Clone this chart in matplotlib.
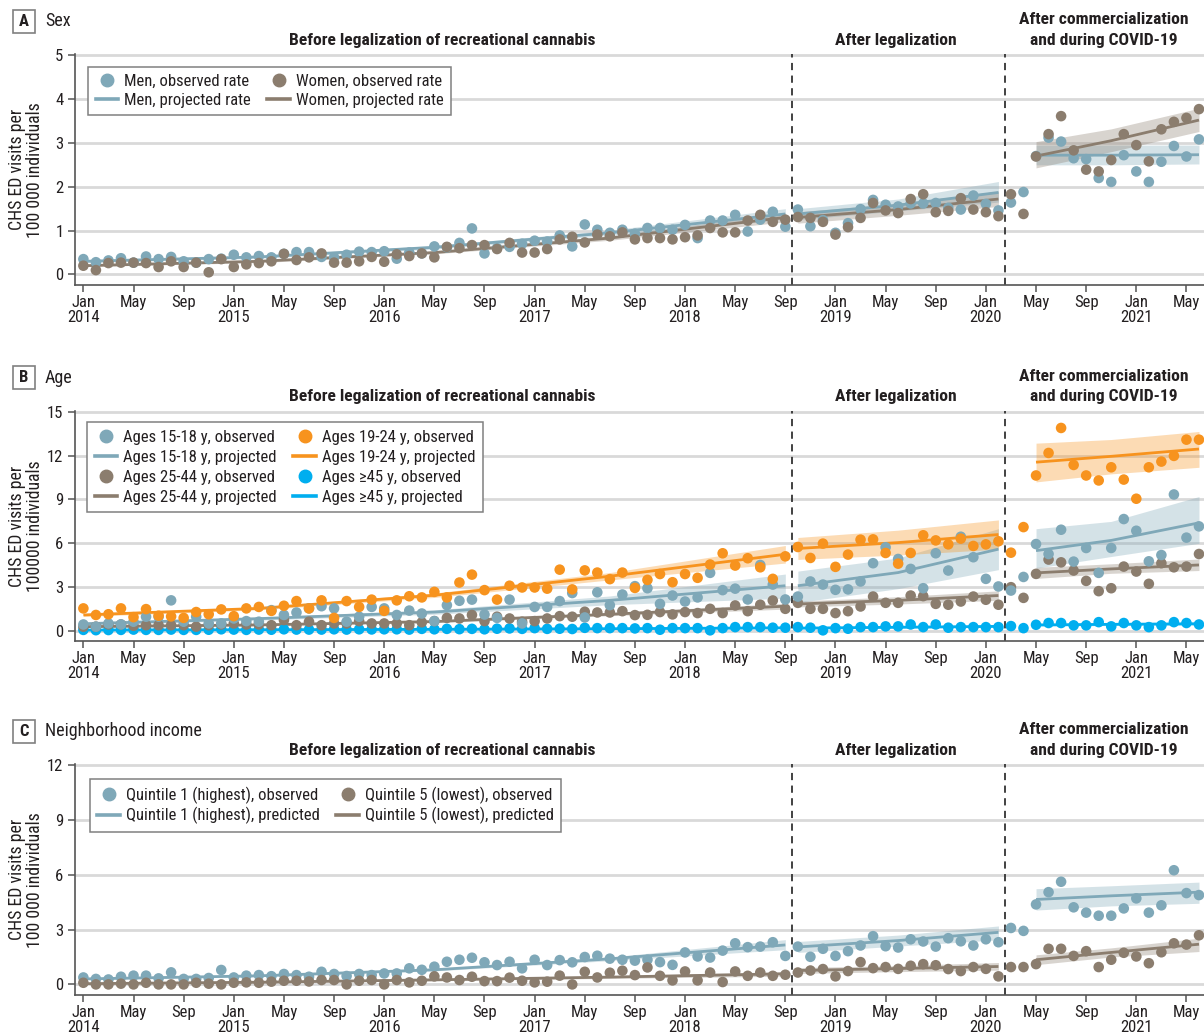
import numpy as np
import matplotlib
matplotlib.use("Agg")
import matplotlib.pyplot as plt
from matplotlib.lines import Line2D
from matplotlib.patches import Rectangle
import matplotlib.transforms as mtransforms
from matplotlib import font_manager as fm

# ---------------- fonts ----------------
names = {f.name for f in fm.fontManager.ttflist}
family = None
for cand in ['Liberation Sans Narrow', 'Roboto Condensed', 'Open Sans Condensed', 'Liberation Sans', 'Roboto']:
    if cand in names:
        family = cand
        break
plt.rcParams['font.family'] = [family, 'DejaVu Sans'] if family else ['DejaVu Sans']

# ---------------- data ----------------
month_index = list(range(90))  # Jan 2014 .. Jun 2021
tick_months = list(range(0, 89, 4))
month_names = ['Jan', 'May', 'Sep']
years = ['2014', '2015', '2016', '2017', '2018', '2019', '2020', '2021']
legalization_break = 56.5
commercialization_break = 73.5
period_titles = ['Before legalization of recreational cannabis', 'After legalization',
                 'After commercialization\nand during COVID-19']

knots_pre = [0, 14, 28, 42, 56]
knots_post = [57, 65, 73]
knots_covid = [76, 82, 89]

# Panel A: sex
men_obs = [0.35, 0.28, 0.32, 0.37, 0.27, 0.41, 0.35, 0.40, 0.30, 0.27,
           0.35, 0.36, 0.45, 0.39, 0.42, 0.39, 0.47, 0.51, 0.51, 0.40,
           0.39, 0.45, 0.52, 0.51, 0.53, 0.36, 0.50, 0.48, 0.64, 0.62,
           0.72, 1.05, 0.48, 0.60, 0.63, 0.70, 0.77, 0.75, 0.89, 0.64,
           1.14, 1.02, 0.95, 1.02, 0.93, 1.06, 1.06, 1.02, 1.13, 0.83,
           1.23, 1.23, 1.36, 0.98, 1.25, 1.43, 1.09, 1.48, 1.10, 1.24,
           0.95, 1.17, 1.49, 1.70, 1.59, 1.55, 1.62, 1.62, 1.63, 1.52,
           1.48, 1.80, 1.61, 1.46, 1.64, 1.88, 2.70, 3.12, 3.03, 2.65,
           2.63, 2.20, 2.11, 2.72, 2.35, 2.11, 2.57, 2.93, 2.69, 3.08]
women_obs = [0.20, 0.10, 0.26, 0.27, 0.27, 0.26, 0.17, 0.30, 0.17, 0.27,
             0.05, 0.35, 0.17, 0.23, 0.26, 0.30, 0.47, 0.33, 0.39, 0.48,
             0.27, 0.27, 0.30, 0.40, 0.29, 0.46, 0.42, 0.48, 0.39, 0.63,
             0.60, 0.67, 0.67, 0.58, 0.72, 0.50, 0.50, 0.58, 0.80, 0.86,
             0.73, 0.91, 0.87, 0.96, 0.80, 0.83, 0.83, 0.80, 0.85, 0.89,
             1.06, 0.96, 0.96, 1.23, 1.36, 1.20, 1.25, 1.31, 1.29, 1.20,
             0.91, 1.08, 1.29, 1.63, 1.46, 1.40, 1.72, 1.83, 1.42, 1.45,
             1.74, 1.48, 1.42, 1.33, 1.83, 1.38, 2.69, 3.20, 3.61, 2.83,
             2.39, 2.35, 2.61, 3.20, 2.95, 2.58, 3.31, 3.48, 3.57, 3.77]
men_fit_pre = [0.30, 0.40, 0.62, 0.95, 1.38]
men_lo_pre = [0.27, 0.37, 0.58, 0.89, 1.26]
men_hi_pre = [0.33, 0.43, 0.66, 1.01, 1.50]
men_fit_post = [1.38, 1.58, 1.87]
men_lo_post = [1.25, 1.45, 1.65]
men_hi_post = [1.50, 1.72, 2.12]
men_fit_covid = [2.72, 2.72, 2.73]
men_lo_covid = [2.50, 2.50, 2.52]
men_hi_covid = [2.95, 2.95, 2.95]
women_fit_pre = [0.20, 0.30, 0.50, 0.83, 1.30]
women_lo_pre = [0.18, 0.27, 0.47, 0.78, 1.20]
women_hi_pre = [0.22, 0.33, 0.53, 0.88, 1.40]
women_fit_post = [1.30, 1.48, 1.72]
women_lo_post = [1.17, 1.35, 1.55]
women_hi_post = [1.43, 1.62, 1.90]
women_fit_covid = [2.70, 3.05, 3.52]
women_lo_covid = [2.43, 2.80, 3.26]
women_hi_covid = [3.03, 3.32, 3.79]

# Panel B: age
age15_obs = [0.45, 0.30, 0.52, 0.45, 0.64, 0.98, 0.98, 2.10, 0.64, 0.98,
             0.52, 0.52, 0.86, 0.68, 0.64, 1.43, 1.10, 1.27, 1.55, 1.70,
             1.55, 0.64, 0.98, 1.65, 1.55, 1.10, 1.40, 1.20, 0.68, 1.77,
             2.07, 2.15, 1.13, 0.90, 2.15, 0.52, 1.65, 1.65, 2.05, 2.60,
             0.93, 2.65, 1.77, 2.50, 3.07, 2.93, 1.86, 2.43, 2.02, 2.30,
             3.98, 2.80, 2.90, 2.16, 4.52, 3.18, 2.16, 2.36, 3.39, 3.18,
             2.82, 2.85, 3.39, 4.64, 5.73, 4.93, 4.25, 2.93, 5.32, 4.14,
             6.45, 5.05, 3.57, 3.05, 2.77, 3.70, 5.95, 5.27, 6.93, 4.75,
             5.68, 3.98, 5.68, 7.66, 6.86, 4.77, 5.20, 9.34, 6.39, 7.16]
age19_obs = [1.55, 1.10, 1.15, 1.55, 0.95, 1.50, 1.05, 1.00, 0.90, 1.30,
             1.15, 1.48, 1.02, 1.55, 1.65, 1.38, 1.73, 2.05, 1.55, 2.10,
             0.90, 2.05, 1.65, 2.15, 1.38, 2.10, 2.38, 2.30, 2.68, 2.30,
             3.32, 3.86, 2.80, 2.15, 3.10, 2.98, 2.98, 2.90, 4.20, 2.85,
             4.15, 4.00, 3.55, 4.00, 2.95, 3.50, 3.90, 3.34, 3.90, 3.64,
             4.55, 5.32, 4.48, 4.98, 4.36, 3.57, 5.11, 5.75, 5.00, 5.98,
             4.39, 5.23, 6.25, 6.27, 5.34, 4.61, 5.34, 6.55, 6.20, 5.93,
             6.32, 5.82, 5.93, 6.14, 5.36, 7.11, 10.64, 12.18, 13.89, 11.36,
             10.64, 10.30, 11.20, 10.36, 9.05, 11.20, 11.59, 11.98, 13.09, 13.09]
age25_obs = [0.30, 0.30, 0.45, 0.45, 0.36, 0.40, 0.40, 0.40, 0.40, 0.30,
             0.40, 0.45, 0.52, 0.45, 0.45, 0.40, 0.75, 0.40, 0.64, 0.40,
             0.52, 0.52, 0.68, 0.52, 0.52, 0.52, 0.40, 0.60, 0.68, 0.90,
             0.86, 1.10, 0.68, 0.98, 0.86, 0.64, 0.68, 0.86, 1.02, 0.98,
             1.32, 1.27, 1.27, 1.36, 1.09, 1.11, 1.30, 1.14, 1.30, 1.23,
             1.52, 1.23, 1.75, 1.36, 1.80, 2.09, 1.52, 1.93, 1.52, 1.52,
             1.23, 1.36, 1.68, 2.36, 1.93, 1.93, 2.43, 2.39, 1.86, 1.80,
             2.02, 2.36, 2.14, 1.80, 3.00, 2.27, 3.91, 4.89, 4.70, 4.14,
             3.43, 2.73, 2.93, 4.41, 4.07, 3.23, 4.64, 4.36, 4.41, 5.27]
age45_obs = [0.08, 0.06, 0.07, 0.08, 0.10, 0.08, 0.08, 0.10, 0.08, 0.08,
             0.09, 0.12, 0.10, 0.08, 0.10, 0.09, 0.12, 0.10, 0.10, 0.10,
             0.12, 0.10, 0.12, 0.11, 0.12, 0.12, 0.10, 0.15, 0.12, 0.15,
             0.13, 0.15, 0.12, 0.16, 0.18, 0.15, 0.20, 0.15, 0.16, 0.14,
             0.22, 0.20, 0.20, 0.20, 0.18, 0.20, 0.09, 0.20, 0.20, 0.20,
             0.05, 0.20, 0.27, 0.27, 0.27, 0.23, 0.23, 0.27, 0.23, 0.05,
             0.20, 0.16, 0.27, 0.27, 0.32, 0.32, 0.45, 0.27, 0.45, 0.23,
             0.27, 0.27, 0.27, 0.27, 0.34, 0.20, 0.43, 0.55, 0.55, 0.39,
             0.39, 0.61, 0.32, 0.55, 0.39, 0.27, 0.39, 0.61, 0.55, 0.45]
age15_fit_pre = [0.50, 0.85, 1.30, 2.10, 3.10]
age15_lo_pre = [0.42, 0.75, 1.15, 1.80, 2.25]
age15_hi_pre = [0.58, 0.95, 1.45, 2.40, 3.90]
age15_fit_post = [3.10, 4.00, 5.60]
age15_lo_post = [1.95, 2.90, 4.20]
age15_hi_post = [4.10, 5.00, 7.00]
age15_fit_covid = [5.50, 6.20, 7.40]
age15_lo_covid = [4.30, 5.10, 6.00]
age15_hi_covid = [7.00, 7.50, 9.20]
age19_fit_pre = [1.10, 1.55, 2.45, 3.75, 5.25]
age19_lo_pre = [1.00, 1.45, 2.30, 3.50, 4.65]
age19_hi_pre = [1.20, 1.65, 2.60, 4.00, 5.85]
age19_fit_post = [5.65, 6.05, 6.60]
age19_lo_post = [4.90, 5.20, 5.60]
age19_hi_post = [6.40, 6.90, 7.60]
age19_fit_covid = [11.55, 11.95, 12.45]
age19_lo_covid = [10.20, 10.75, 11.20]
age19_hi_covid = [12.85, 13.10, 13.65]
age25_fit_pre = [0.30, 0.42, 0.65, 1.15, 1.70]
age25_lo_pre = [0.25, 0.37, 0.58, 1.05, 1.50]
age25_hi_pre = [0.35, 0.47, 0.72, 1.25, 1.90]
age25_fit_post = [1.85, 2.10, 2.43]
age25_lo_post = [1.65, 1.85, 2.10]
age25_hi_post = [2.05, 2.35, 2.75]
age25_fit_covid = [3.98, 4.25, 4.52]
age25_lo_covid = [3.60, 3.95, 4.14]
age25_hi_covid = [4.36, 4.60, 4.93]
age45_fit_pre = [0.07, 0.09, 0.12, 0.16, 0.22]
age45_lo_pre = [0.04, 0.06, 0.09, 0.12, 0.17]
age45_hi_pre = [0.10, 0.12, 0.15, 0.20, 0.27]
age45_fit_post = [0.20, 0.26, 0.32]
age45_lo_post = [0.15, 0.20, 0.25]
age45_hi_post = [0.25, 0.32, 0.40]
age45_fit_covid = [0.42, 0.46, 0.50]
age45_lo_covid = [0.34, 0.38, 0.41]
age45_hi_covid = [0.50, 0.54, 0.60]

# Panel C: neighborhood income
q1_obs = [0.38, 0.30, 0.27, 0.42, 0.48, 0.48, 0.33, 0.66, 0.30, 0.30,
          0.35, 0.79, 0.38, 0.48, 0.51, 0.45, 0.57, 0.51, 0.42, 0.69,
          0.57, 0.46, 0.57, 0.51, 0.60, 0.60, 0.88, 0.80, 0.97, 1.24,
          1.35, 1.46, 1.21, 1.06, 1.24, 0.88, 1.35, 1.06, 1.33, 1.21,
          1.50, 1.57, 1.41, 1.35, 1.30, 1.35, 1.22, 1.07, 1.75, 1.53,
          1.47, 1.85, 2.25, 2.04, 2.07, 2.31, 1.56, 2.07, 1.51, 1.95,
          1.56, 1.82, 2.13, 2.64, 2.09, 2.02, 2.47, 2.35, 2.07, 2.53,
          2.36, 2.13, 2.47, 2.31, 3.09, 2.93, 4.38, 5.05, 5.62, 4.22,
          3.93, 3.76, 3.76, 4.16, 4.71, 3.93, 4.33, 6.25, 5.00, 4.89]
q5_obs = [0.09, 0.00, 0.00, 0.04, 0.00, 0.09, 0.00, 0.00, 0.00, 0.09,
          0.04, 0.00, 0.09, 0.11, 0.09, 0.15, 0.20, 0.20, 0.16, 0.24,
          0.24, 0.00, 0.20, 0.24, 0.00, 0.24, 0.11, 0.20, 0.44, 0.38,
          0.24, 0.42, 0.18, 0.18, 0.37, 0.20, 0.11, 0.15, 0.48, 0.00,
          0.69, 0.38, 0.64, 0.75, 0.51, 0.93, 0.47, 0.22, 0.71, 0.22,
          0.65, 0.13, 0.71, 0.47, 0.65, 0.47, 0.53, 0.65, 0.76, 0.84,
          0.44, 0.73, 1.22, 0.89, 0.95, 0.85, 1.02, 1.11, 1.05, 0.84,
          0.73, 0.95, 0.85, 0.44, 0.95, 0.95, 1.11, 1.95, 1.95, 1.56,
          1.82, 0.95, 1.35, 1.73, 1.53, 1.16, 1.76, 2.25, 2.18, 2.69]
q1_fit_pre = [0.30, 0.47, 0.80, 1.40, 2.16]
q1_lo_pre = [0.26, 0.42, 0.74, 1.30, 1.90]
q1_hi_pre = [0.34, 0.52, 0.86, 1.50, 2.45]
q1_fit_post = [2.05, 2.40, 2.85]
q1_lo_post = [1.75, 2.10, 2.44]
q1_hi_post = [2.35, 2.70, 3.20]
q1_fit_covid = [4.65, 4.85, 5.05]
q1_lo_covid = [4.07, 4.30, 4.44]
q1_hi_covid = [5.24, 5.40, 5.60]
q5_fit_pre = [0.04, 0.12, 0.25, 0.40, 0.58]
q5_lo_pre = [0.00, 0.08, 0.20, 0.33, 0.45]
q5_hi_pre = [0.08, 0.16, 0.30, 0.47, 0.70]
q5_fit_post = [0.76, 0.87, 0.98]
q5_lo_post = [0.60, 0.70, 0.78]
q5_hi_post = [0.92, 1.03, 1.20]
q5_fit_covid = [1.35, 1.75, 2.20]
q5_lo_covid = [1.08, 1.50, 1.80]
q5_hi_covid = [1.62, 2.00, 2.53]

# ---------------- style ----------------
C_BLUEGRAY = '#7FA8B8'
C_BROWN = '#8B7D6E'
C_ORANGE = '#F7931E'
C_CYAN = '#00AEEF'
TXT = '#231F20'
GRID = '#D9D9D9'
SPINE = '#555555'

W, H = 1204, 1036
fig = plt.figure(figsize=(W / 100, H / 100), dpi=100)


def px_rect(top, bottom, left=74.6, right=1204):
    return [left / W, 1 - bottom / H, (right - left) / W, (bottom - top) / H]


def draw_series(ax, obs, color, fits, zo):
    for kn, f, lo, hi in fits:
        ax.fill_between(kn, lo, hi, color=color, alpha=0.33, lw=0, zorder=2)
        ax.plot(kn, f, color=color, lw=2.0, zorder=3, solid_capstyle='butt')
    ax.scatter(month_index, obs, s=58, color=color, edgecolors='none', zorder=zo, clip_on=False)


def style_axes(ax, ylim, yticks, title_letter, title_text, label_top_px, legend_handles,
               legend_anchor, labelspacing):
    ax.set_xlim(-0.7, 89.4)
    ax.set_ylim(*ylim)
    ax.set_yticks(yticks)
    ax.set_yticklabels([str(t) for t in yticks], fontsize=12, color=TXT)
    ax.set_xticks(tick_months)
    labels = []
    for i, m in enumerate(tick_months):
        name = month_names[i % 3]
        if name == 'Jan':
            labels.append(f'{name}\n{years[m // 12]}')
        else:
            labels.append(name)
    ax.set_xticklabels(labels, fontsize=12, color=TXT, linespacing=1.0, va='top')
    ax.tick_params(axis='x', length=5, width=1.1, color=SPINE, pad=2.5)
    ax.tick_params(axis='y', length=5, width=1.1, color=SPINE, pad=3)
    for s in ['top', 'right']:
        ax.spines[s].set_visible(False)
    for s in ['left', 'bottom']:
        ax.spines[s].set_color(SPINE)
        ax.spines[s].set_linewidth(1.2)
    ax.yaxis.grid(True, color=GRID, lw=2.0, zorder=0)
    ax.set_axisbelow(True)
    for xb in [legalization_break, commercialization_break]:
        ax.axvline(xb, color='#333333', lw=1.3, ls=(0, (4, 3)), zorder=1)
    tr = mtransforms.blended_transform_factory(ax.transData, ax.transAxes)
    hpx = ax.get_position().height * H
    base = 1 + 9.5 / hpx
    kw = dict(transform=tr, ha='center', va='baseline', fontsize=12.6, fontweight='bold', color=TXT)
    ax.text(28.6, base, period_titles[0], **kw)
    ax.text(64.8, base, period_titles[1], **kw)
    l1, l2 = period_titles[2].split('\n')
    ax.text(81.4, base, l2, **kw)
    ax.text(81.4, base + 20.3 / hpx, l1, **kw)
    cy = label_top_px
    fig.patches.append(Rectangle((12.5 / W, 1 - (cy + 11.5) / H), 22.5 / W, 23 / H,
                                 transform=fig.transFigure, fill=False,
                                 edgecolor='#808080', lw=1.2))
    fig.text(23.75 / W, 1 - cy / H, title_letter, ha='center', va='center',
             fontsize=12, fontweight='bold', color=TXT)
    fig.text(45 / W, 1 - cy / H, title_text, ha='left', va='center', fontsize=13, color=TXT)
    leg = ax.legend(handles=legend_handles, loc='upper left', bbox_to_anchor=legend_anchor,
                    ncol=2, fontsize=12, frameon=True, fancybox=False, framealpha=1,
                    edgecolor='#808080', borderaxespad=0, handlelength=1.35,
                    handletextpad=0.35, columnspacing=1.0, labelspacing=labelspacing,
                    borderpad=0.45)
    leg.get_frame().set_linewidth(1.1)
    for t in leg.get_texts():
        t.set_color(TXT)


def obs_handle(c, label):
    return Line2D([], [], marker='o', ls='none', color=c, markersize=9, label=label)


def fit_handle(c, label):
    return Line2D([], [], color=c, lw=2.6, label=label)


def ylabel(ax, text):
    pos = ax.get_position()
    fig.text(26 / W, pos.y0 + pos.height / 2, text, rotation=90, ha='center', va='center',
             fontsize=12.8, color=TXT, linespacing=1.05)


# ---------------- Panel A ----------------
axA = fig.add_axes(px_rect(54.3, 285))
draw_series(axA, men_obs, C_BLUEGRAY,
            [(knots_pre, men_fit_pre, men_lo_pre, men_hi_pre),
             (knots_post, men_fit_post, men_lo_post, men_hi_post),
             (knots_covid, men_fit_covid, men_lo_covid, men_hi_covid)], 4)
draw_series(axA, women_obs, C_BROWN,
            [(knots_pre, women_fit_pre, women_lo_pre, women_hi_pre),
             (knots_post, women_fit_post, women_lo_post, women_hi_post),
             (knots_covid, women_fit_covid, women_lo_covid, women_hi_covid)], 5)
style_axes(axA, (-0.24, 5.02), [0, 1, 2, 3, 4, 5], 'A', 'Sex', 21.5,
           [obs_handle(C_BLUEGRAY, 'Men, observed rate'), fit_handle(C_BLUEGRAY, 'Men, projected rate'),
            obs_handle(C_BROWN, 'Women, observed rate'), fit_handle(C_BROWN, 'Women, projected rate')],
           (0.0119, 0.946), 0.2)
ylabel(axA, 'CHS ED visits per\n100 000 individuals')

# ---------------- Panel B ----------------
axB = fig.add_axes(px_rect(411, 641))
draw_series(axB, age45_obs, C_CYAN,
            [(knots_pre, age45_fit_pre, age45_lo_pre, age45_hi_pre),
             (knots_post, age45_fit_post, age45_lo_post, age45_hi_post),
             (knots_covid, age45_fit_covid, age45_lo_covid, age45_hi_covid)], 4)
draw_series(axB, age25_obs, C_BROWN,
            [(knots_pre, age25_fit_pre, age25_lo_pre, age25_hi_pre),
             (knots_post, age25_fit_post, age25_lo_post, age25_hi_post),
             (knots_covid, age25_fit_covid, age25_lo_covid, age25_hi_covid)], 5)
draw_series(axB, age15_obs, C_BLUEGRAY,
            [(knots_pre, age15_fit_pre, age15_lo_pre, age15_hi_pre),
             (knots_post, age15_fit_post, age15_lo_post, age15_hi_post),
             (knots_covid, age15_fit_covid, age15_lo_covid, age15_hi_covid)], 6)
draw_series(axB, age19_obs, C_ORANGE,
            [(knots_pre, age19_fit_pre, age19_lo_pre, age19_hi_pre),
             (knots_post, age19_fit_post, age19_lo_post, age19_hi_post),
             (knots_covid, age19_fit_covid, age19_lo_covid, age19_hi_covid)], 7)
style_axes(axB, (-0.68, 15.05), [0, 3, 6, 9, 12, 15], 'B', 'Age', 378,
           [obs_handle(C_BLUEGRAY, 'Ages 15-18 y, observed'), fit_handle(C_BLUEGRAY, 'Ages 15-18 y, projected'),
            obs_handle(C_BROWN, 'Ages 25-44 y, observed'), fit_handle(C_BROWN, 'Ages 25-44 y, projected'),
            obs_handle(C_ORANGE, 'Ages 19-24 y, observed'), fit_handle(C_ORANGE, 'Ages 19-24 y, projected'),
            obs_handle(C_CYAN, 'Ages \u226545 y, observed'), fit_handle(C_CYAN, 'Ages \u226545 y, projected')],
           (0.0112, 0.952), 0.3)
ylabel(axB, 'CHS ED visits per\n100000 individuals')

# ---------------- Panel C ----------------
axC = fig.add_axes(px_rect(764.3, 995))
draw_series(axC, q1_obs, C_BLUEGRAY,
            [(knots_pre, q1_fit_pre, q1_lo_pre, q1_hi_pre),
             (knots_post, q1_fit_post, q1_lo_post, q1_hi_post),
             (knots_covid, q1_fit_covid, q1_lo_covid, q1_hi_covid)], 4)
draw_series(axC, q5_obs, C_BROWN,
            [(knots_pre, q5_fit_pre, q5_lo_pre, q5_hi_pre),
             (knots_post, q5_fit_post, q5_lo_post, q5_hi_post),
             (knots_covid, q5_fit_covid, q5_lo_covid, q5_hi_covid)], 5)
style_axes(axC, (-0.58, 12.05), [0, 3, 6, 9, 12], 'C', 'Neighborhood income', 731,
           [obs_handle(C_BLUEGRAY, 'Quintile 1 (highest), observed'), fit_handle(C_BLUEGRAY, 'Quintile 1 (highest), predicted'),
            obs_handle(C_BROWN, 'Quintile 5 (lowest), observed'), fit_handle(C_BROWN, 'Quintile 5 (lowest), predicted')],
           (0.0136, 0.936), 0.2)
ylabel(axC, 'CHS ED visits per\n100 000 individuals')

fig.savefig('out.png', dpi=100)
